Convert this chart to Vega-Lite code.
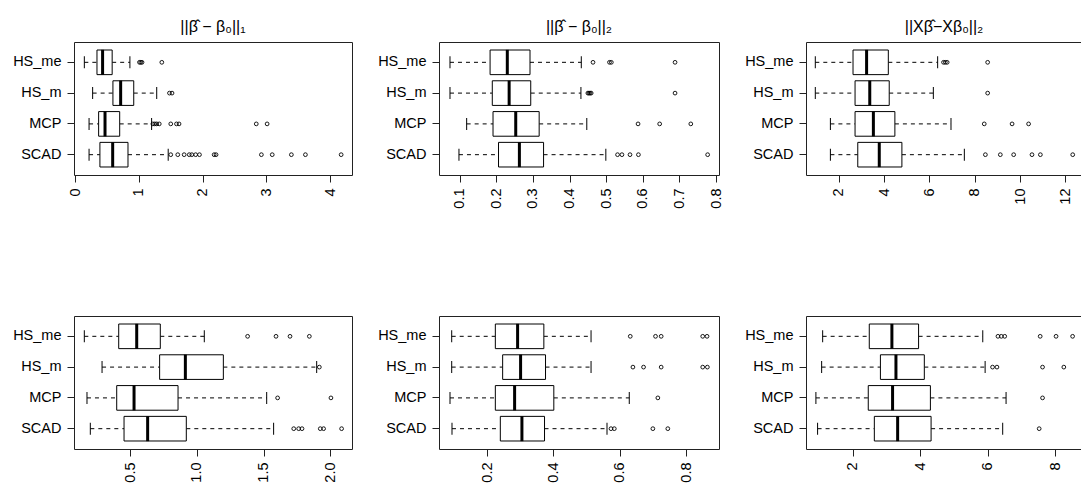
{
  "$schema": "https://vega.github.io/schema/vega-lite/v6.json",
  "background": "white",
  "padding": {"left": 7, "top": 18, "right": 0, "bottom": 0},
  "datasets": {
    "stats": [
      {"panel": 1, "method": "HS_me", "lo": 0.146, "q1": 0.344, "med": 0.432, "q3": 0.582, "hi": 0.86},
      {"panel": 1, "method": "HS_m", "lo": 0.276, "q1": 0.594, "med": 0.715, "q3": 0.92, "hi": 1.28},
      {"panel": 1, "method": "MCP", "lo": 0.22, "q1": 0.37, "med": 0.47, "q3": 0.70, "hi": 1.2},
      {"panel": 1, "method": "SCAD", "lo": 0.22, "q1": 0.39, "med": 0.59, "q3": 0.83, "hi": 1.46},
      {"panel": 2, "method": "HS_me", "lo": 0.0735, "q1": 0.183, "med": 0.230, "q3": 0.292, "hi": 0.432},
      {"panel": 2, "method": "HS_m", "lo": 0.0735, "q1": 0.189, "med": 0.235, "q3": 0.294, "hi": 0.431},
      {"panel": 2, "method": "MCP", "lo": 0.119, "q1": 0.191, "med": 0.253, "q3": 0.317, "hi": 0.447},
      {"panel": 2, "method": "SCAD", "lo": 0.098, "q1": 0.206, "med": 0.263, "q3": 0.329, "hi": 0.499},
      {"panel": 3, "method": "HS_me", "lo": 0.953, "q1": 2.62, "med": 3.22, "q3": 4.18, "hi": 6.36},
      {"panel": 3, "method": "HS_m", "lo": 0.953, "q1": 2.71, "med": 3.36, "q3": 4.22, "hi": 6.17},
      {"panel": 3, "method": "MCP", "lo": 1.62, "q1": 2.71, "med": 3.52, "q3": 4.47, "hi": 6.95},
      {"panel": 3, "method": "SCAD", "lo": 1.62, "q1": 2.83, "med": 3.78, "q3": 4.78, "hi": 7.54},
      {"panel": 4, "method": "HS_me", "lo": 0.155, "q1": 0.413, "med": 0.548, "q3": 0.725, "hi": 1.055},
      {"panel": 4, "method": "HS_m", "lo": 0.288, "q1": 0.72, "med": 0.913, "q3": 1.198, "hi": 1.898},
      {"panel": 4, "method": "MCP", "lo": 0.175, "q1": 0.398, "med": 0.528, "q3": 0.858, "hi": 1.523},
      {"panel": 4, "method": "SCAD", "lo": 0.2, "q1": 0.453, "med": 0.63, "q3": 0.92, "hi": 1.575},
      {"panel": 5, "method": "HS_me", "lo": 0.0937, "q1": 0.225, "med": 0.292, "q3": 0.371, "hi": 0.513},
      {"panel": 5, "method": "HS_m", "lo": 0.0937, "q1": 0.247, "med": 0.301, "q3": 0.376, "hi": 0.513},
      {"panel": 5, "method": "MCP", "lo": 0.0886, "q1": 0.225, "med": 0.283, "q3": 0.401, "hi": 0.628},
      {"panel": 5, "method": "SCAD", "lo": 0.0946, "q1": 0.24, "med": 0.305, "q3": 0.373, "hi": 0.561},
      {"panel": 6, "method": "HS_me", "lo": 1.11, "q1": 2.49, "med": 3.16, "q3": 3.95, "hi": 5.85},
      {"panel": 6, "method": "HS_m", "lo": 1.08, "q1": 2.82, "med": 3.28, "q3": 4.12, "hi": 5.92},
      {"panel": 6, "method": "MCP", "lo": 0.91, "q1": 2.46, "med": 3.18, "q3": 4.30, "hi": 6.54},
      {"panel": 6, "method": "SCAD", "lo": 0.96, "q1": 2.64, "med": 3.33, "q3": 4.32, "hi": 6.44}
    ],
    "out": [
      {"panel": 1, "method": "HS_me", "v": 1.01}, {"panel": 1, "method": "HS_me", "v": 1.03}, {"panel": 1, "method": "HS_me", "v": 1.05}, {"panel": 1, "method": "HS_me", "v": 1.36},
      {"panel": 1, "method": "HS_m", "v": 1.48}, {"panel": 1, "method": "HS_m", "v": 1.52},
      {"panel": 1, "method": "MCP", "v": 1.22}, {"panel": 1, "method": "MCP", "v": 1.25}, {"panel": 1, "method": "MCP", "v": 1.28}, {"panel": 1, "method": "MCP", "v": 1.32}, {"panel": 1, "method": "MCP", "v": 1.50}, {"panel": 1, "method": "MCP", "v": 1.59}, {"panel": 1, "method": "MCP", "v": 1.63}, {"panel": 1, "method": "MCP", "v": 2.84}, {"panel": 1, "method": "MCP", "v": 3.01},
      {"panel": 1, "method": "SCAD", "v": 1.50}, {"panel": 1, "method": "SCAD", "v": 1.61}, {"panel": 1, "method": "SCAD", "v": 1.71}, {"panel": 1, "method": "SCAD", "v": 1.79}, {"panel": 1, "method": "SCAD", "v": 1.83}, {"panel": 1, "method": "SCAD", "v": 1.89}, {"panel": 1, "method": "SCAD", "v": 1.95}, {"panel": 1, "method": "SCAD", "v": 2.18}, {"panel": 1, "method": "SCAD", "v": 2.21}, {"panel": 1, "method": "SCAD", "v": 2.92}, {"panel": 1, "method": "SCAD", "v": 3.09}, {"panel": 1, "method": "SCAD", "v": 3.39}, {"panel": 1, "method": "SCAD", "v": 3.61}, {"panel": 1, "method": "SCAD", "v": 4.17},
      {"panel": 2, "method": "HS_me", "v": 0.464}, {"panel": 2, "method": "HS_me", "v": 0.509}, {"panel": 2, "method": "HS_me", "v": 0.514}, {"panel": 2, "method": "HS_me", "v": 0.688},
      {"panel": 2, "method": "HS_m", "v": 0.450}, {"panel": 2, "method": "HS_m", "v": 0.453}, {"panel": 2, "method": "HS_m", "v": 0.456}, {"panel": 2, "method": "HS_m", "v": 0.459}, {"panel": 2, "method": "HS_m", "v": 0.688},
      {"panel": 2, "method": "MCP", "v": 0.587}, {"panel": 2, "method": "MCP", "v": 0.646}, {"panel": 2, "method": "MCP", "v": 0.731},
      {"panel": 2, "method": "SCAD", "v": 0.531}, {"panel": 2, "method": "SCAD", "v": 0.543}, {"panel": 2, "method": "SCAD", "v": 0.565}, {"panel": 2, "method": "SCAD", "v": 0.588}, {"panel": 2, "method": "SCAD", "v": 0.777},
      {"panel": 3, "method": "HS_me", "v": 6.62}, {"panel": 3, "method": "HS_me", "v": 6.70}, {"panel": 3, "method": "HS_me", "v": 6.78}, {"panel": 3, "method": "HS_me", "v": 8.57},
      {"panel": 3, "method": "HS_m", "v": 8.57},
      {"panel": 3, "method": "MCP", "v": 8.42}, {"panel": 3, "method": "MCP", "v": 9.65}, {"panel": 3, "method": "MCP", "v": 10.38},
      {"panel": 3, "method": "SCAD", "v": 8.47}, {"panel": 3, "method": "SCAD", "v": 9.13}, {"panel": 3, "method": "SCAD", "v": 9.72}, {"panel": 3, "method": "SCAD", "v": 10.53}, {"panel": 3, "method": "SCAD", "v": 10.90}, {"panel": 3, "method": "SCAD", "v": 12.33},
      {"panel": 4, "method": "HS_me", "v": 1.38}, {"panel": 4, "method": "HS_me", "v": 1.593}, {"panel": 4, "method": "HS_me", "v": 1.698}, {"panel": 4, "method": "HS_me", "v": 1.843},
      {"panel": 4, "method": "HS_m", "v": 1.918},
      {"panel": 4, "method": "MCP", "v": 1.605}, {"panel": 4, "method": "MCP", "v": 2.005},
      {"panel": 4, "method": "SCAD", "v": 1.726}, {"panel": 4, "method": "SCAD", "v": 1.763}, {"panel": 4, "method": "SCAD", "v": 1.788}, {"panel": 4, "method": "SCAD", "v": 1.925}, {"panel": 4, "method": "SCAD", "v": 1.95}, {"panel": 4, "method": "SCAD", "v": 2.085},
      {"panel": 5, "method": "HS_me", "v": 0.631}, {"panel": 5, "method": "HS_me", "v": 0.707}, {"panel": 5, "method": "HS_me", "v": 0.724}, {"panel": 5, "method": "HS_me", "v": 0.849}, {"panel": 5, "method": "HS_me", "v": 0.862},
      {"panel": 5, "method": "HS_m", "v": 0.639}, {"panel": 5, "method": "HS_m", "v": 0.671}, {"panel": 5, "method": "HS_m", "v": 0.724}, {"panel": 5, "method": "HS_m", "v": 0.849}, {"panel": 5, "method": "HS_m", "v": 0.863},
      {"panel": 5, "method": "MCP", "v": 0.714},
      {"panel": 5, "method": "SCAD", "v": 0.573}, {"panel": 5, "method": "SCAD", "v": 0.583}, {"panel": 5, "method": "SCAD", "v": 0.699}, {"panel": 5, "method": "SCAD", "v": 0.744},
      {"panel": 6, "method": "HS_me", "v": 6.30}, {"panel": 6, "method": "HS_me", "v": 6.40}, {"panel": 6, "method": "HS_me", "v": 6.50}, {"panel": 6, "method": "HS_me", "v": 7.55}, {"panel": 6, "method": "HS_me", "v": 8.02}, {"panel": 6, "method": "HS_me", "v": 8.51},
      {"panel": 6, "method": "HS_m", "v": 6.14}, {"panel": 6, "method": "HS_m", "v": 6.27}, {"panel": 6, "method": "HS_m", "v": 7.62}, {"panel": 6, "method": "HS_m", "v": 8.25},
      {"panel": 6, "method": "MCP", "v": 7.62},
      {"panel": 6, "method": "SCAD", "v": 7.52}
    ]
  },
  "columns": 3,
  "bounds": "flush",
  "spacing": {"row": 141, "column": 87},
  "concat": [
    {
      "width": 278, "height": 133,
      "title": {"text": "||β̂ − β₀||₁"},
      "data": {"name": "stats"},
      "transform": [{"filter": "datum.panel == 1"}],
      "layer": [
        {"mark": {"type": "rule", "strokeDash": [4, 4], "color": "#000", "strokeWidth": 1},
         "encoding": {"y": {"field": "method", "type": "nominal", "scale": {"type": "band", "domain": ["HS_me", "HS_m", "MCP", "SCAD"], "paddingInner": 0, "paddingOuter": 0.16}, "title": null},
                      "x": {"field": "lo", "type": "quantitative", "scale": {"domain": [-0.016, 4.34], "nice": false, "zero": false}, "axis": {"values": [0, 1, 2, 3, 4], "format": "d"}, "title": null},
                      "x2": {"field": "q1"}}},
        {"mark": {"type": "rule", "strokeDash": [4, 4], "color": "#000", "strokeWidth": 1},
         "encoding": {"y": {"field": "method", "type": "nominal"}, "x": {"field": "q3", "type": "quantitative"}, "x2": {"field": "hi"}}},
        {"mark": {"type": "bar", "fill": "white", "stroke": "#000", "strokeWidth": 1, "height": {"band": 0.8}},
         "encoding": {"y": {"field": "method", "type": "nominal"}, "x": {"field": "q1", "type": "quantitative"}, "x2": {"field": "q3"}}},
        {"mark": {"type": "tick", "thickness": 3, "size": 25, "color": "#000", "opacity": 1},
         "encoding": {"y": {"field": "method", "type": "nominal"}, "x": {"field": "med", "type": "quantitative"}}},
        {"mark": {"type": "tick", "thickness": 1, "size": 12, "color": "#000", "opacity": 1},
         "encoding": {"y": {"field": "method", "type": "nominal"}, "x": {"field": "lo", "type": "quantitative"}}},
        {"mark": {"type": "tick", "thickness": 1, "size": 12, "color": "#000", "opacity": 1},
         "encoding": {"y": {"field": "method", "type": "nominal"}, "x": {"field": "hi", "type": "quantitative"}}},
        {"data": {"name": "out"}, "transform": [{"filter": "datum.panel == 1"}],
         "mark": {"type": "point", "shape": "circle", "filled": false, "size": 14, "stroke": "#000", "strokeWidth": 0.9, "opacity": 1},
         "encoding": {"y": {"field": "method", "type": "nominal"}, "x": {"field": "v", "type": "quantitative"}}}
      ]
    },
    {
      "width": 280, "height": 133,
      "title": {"text": "||β̂ − β₀||₂"},
      "data": {"name": "stats"},
      "transform": [{"filter": "datum.panel == 2"}],
      "layer": [
        {"mark": {"type": "rule", "strokeDash": [4, 4], "color": "#000", "strokeWidth": 1},
         "encoding": {"y": {"field": "method", "type": "nominal", "scale": {"type": "band", "domain": ["HS_me", "HS_m", "MCP", "SCAD"], "paddingInner": 0, "paddingOuter": 0.16}, "title": null},
                      "x": {"field": "lo", "type": "quantitative", "scale": {"domain": [0.0435, 0.808], "nice": false, "zero": false}, "axis": {"values": [0.1, 0.2, 0.3, 0.4, 0.5, 0.6, 0.7, 0.8], "format": ".1f", "tickCount": 20}, "title": null},
                      "x2": {"field": "q1"}}},
        {"mark": {"type": "rule", "strokeDash": [4, 4], "color": "#000", "strokeWidth": 1},
         "encoding": {"y": {"field": "method", "type": "nominal"}, "x": {"field": "q3", "type": "quantitative"}, "x2": {"field": "hi"}}},
        {"mark": {"type": "bar", "fill": "white", "stroke": "#000", "strokeWidth": 1, "height": {"band": 0.8}},
         "encoding": {"y": {"field": "method", "type": "nominal"}, "x": {"field": "q1", "type": "quantitative"}, "x2": {"field": "q3"}}},
        {"mark": {"type": "tick", "thickness": 3, "size": 25, "color": "#000", "opacity": 1},
         "encoding": {"y": {"field": "method", "type": "nominal"}, "x": {"field": "med", "type": "quantitative"}}},
        {"mark": {"type": "tick", "thickness": 1, "size": 12, "color": "#000", "opacity": 1},
         "encoding": {"y": {"field": "method", "type": "nominal"}, "x": {"field": "lo", "type": "quantitative"}}},
        {"mark": {"type": "tick", "thickness": 1, "size": 12, "color": "#000", "opacity": 1},
         "encoding": {"y": {"field": "method", "type": "nominal"}, "x": {"field": "hi", "type": "quantitative"}}},
        {"data": {"name": "out"}, "transform": [{"filter": "datum.panel == 2"}],
         "mark": {"type": "point", "shape": "circle", "filled": false, "size": 14, "stroke": "#000", "strokeWidth": 0.9, "opacity": 1},
         "encoding": {"y": {"field": "method", "type": "nominal"}, "x": {"field": "v", "type": "quantitative"}}}
      ]
    },
    {
      "width": 276, "height": 133,
      "title": {"text": "||Xβ̂−Xβ₀||₂"},
      "data": {"name": "stats"},
      "transform": [{"filter": "datum.panel == 3"}],
      "layer": [
        {"mark": {"type": "rule", "strokeDash": [4, 4], "color": "#000", "strokeWidth": 1},
         "encoding": {"y": {"field": "method", "type": "nominal", "scale": {"type": "band", "domain": ["HS_me", "HS_m", "MCP", "SCAD"], "paddingInner": 0, "paddingOuter": 0.16}, "title": null},
                      "x": {"field": "lo", "type": "quantitative", "scale": {"domain": [0.542, 12.74], "nice": false, "zero": false}, "axis": {"values": [2, 4, 6, 8, 10, 12], "format": "d", "tickCount": 20}, "title": null},
                      "x2": {"field": "q1"}}},
        {"mark": {"type": "rule", "strokeDash": [4, 4], "color": "#000", "strokeWidth": 1},
         "encoding": {"y": {"field": "method", "type": "nominal"}, "x": {"field": "q3", "type": "quantitative"}, "x2": {"field": "hi"}}},
        {"mark": {"type": "bar", "fill": "white", "stroke": "#000", "strokeWidth": 1, "height": {"band": 0.8}},
         "encoding": {"y": {"field": "method", "type": "nominal"}, "x": {"field": "q1", "type": "quantitative"}, "x2": {"field": "q3"}}},
        {"mark": {"type": "tick", "thickness": 3, "size": 25, "color": "#000", "opacity": 1},
         "encoding": {"y": {"field": "method", "type": "nominal"}, "x": {"field": "med", "type": "quantitative"}}},
        {"mark": {"type": "tick", "thickness": 1, "size": 12, "color": "#000", "opacity": 1},
         "encoding": {"y": {"field": "method", "type": "nominal"}, "x": {"field": "lo", "type": "quantitative"}}},
        {"mark": {"type": "tick", "thickness": 1, "size": 12, "color": "#000", "opacity": 1},
         "encoding": {"y": {"field": "method", "type": "nominal"}, "x": {"field": "hi", "type": "quantitative"}}},
        {"data": {"name": "out"}, "transform": [{"filter": "datum.panel == 3"}],
         "mark": {"type": "point", "shape": "circle", "filled": false, "size": 14, "stroke": "#000", "strokeWidth": 0.9, "opacity": 1},
         "encoding": {"y": {"field": "method", "type": "nominal"}, "x": {"field": "v", "type": "quantitative"}}}
      ]
    },
    {
      "width": 278, "height": 133,
      "data": {"name": "stats"},
      "transform": [{"filter": "datum.panel == 4"}],
      "layer": [
        {"mark": {"type": "rule", "strokeDash": [4, 4], "color": "#000", "strokeWidth": 1},
         "encoding": {"y": {"field": "method", "type": "nominal", "scale": {"type": "band", "domain": ["HS_me", "HS_m", "MCP", "SCAD"], "paddingInner": 0, "paddingOuter": 0.16}, "title": null},
                      "x": {"field": "lo", "type": "quantitative", "scale": {"domain": [0.0776, 2.163], "nice": false, "zero": false}, "axis": {"values": [0.5, 1.0, 1.5, 2.0], "format": ".1f", "tickCount": 20}, "title": null},
                      "x2": {"field": "q1"}}},
        {"mark": {"type": "rule", "strokeDash": [4, 4], "color": "#000", "strokeWidth": 1},
         "encoding": {"y": {"field": "method", "type": "nominal"}, "x": {"field": "q3", "type": "quantitative"}, "x2": {"field": "hi"}}},
        {"mark": {"type": "bar", "fill": "white", "stroke": "#000", "strokeWidth": 1, "height": {"band": 0.8}},
         "encoding": {"y": {"field": "method", "type": "nominal"}, "x": {"field": "q1", "type": "quantitative"}, "x2": {"field": "q3"}}},
        {"mark": {"type": "tick", "thickness": 3, "size": 25, "color": "#000", "opacity": 1},
         "encoding": {"y": {"field": "method", "type": "nominal"}, "x": {"field": "med", "type": "quantitative"}}},
        {"mark": {"type": "tick", "thickness": 1, "size": 12, "color": "#000", "opacity": 1},
         "encoding": {"y": {"field": "method", "type": "nominal"}, "x": {"field": "lo", "type": "quantitative"}}},
        {"mark": {"type": "tick", "thickness": 1, "size": 12, "color": "#000", "opacity": 1},
         "encoding": {"y": {"field": "method", "type": "nominal"}, "x": {"field": "hi", "type": "quantitative"}}},
        {"data": {"name": "out"}, "transform": [{"filter": "datum.panel == 4"}],
         "mark": {"type": "point", "shape": "circle", "filled": false, "size": 14, "stroke": "#000", "strokeWidth": 0.9, "opacity": 1},
         "encoding": {"y": {"field": "method", "type": "nominal"}, "x": {"field": "v", "type": "quantitative"}}}
      ]
    },
    {
      "width": 280, "height": 133,
      "data": {"name": "stats"},
      "transform": [{"filter": "datum.panel == 5"}],
      "layer": [
        {"mark": {"type": "rule", "strokeDash": [4, 4], "color": "#000", "strokeWidth": 1},
         "encoding": {"y": {"field": "method", "type": "nominal", "scale": {"type": "band", "domain": ["HS_me", "HS_m", "MCP", "SCAD"], "paddingInner": 0, "paddingOuter": 0.16}, "title": null},
                      "x": {"field": "lo", "type": "quantitative", "scale": {"domain": [0.0555, 0.898], "nice": false, "zero": false}, "axis": {"values": [0.2, 0.4, 0.6, 0.8], "format": ".1f", "tickCount": 20}, "title": null},
                      "x2": {"field": "q1"}}},
        {"mark": {"type": "rule", "strokeDash": [4, 4], "color": "#000", "strokeWidth": 1},
         "encoding": {"y": {"field": "method", "type": "nominal"}, "x": {"field": "q3", "type": "quantitative"}, "x2": {"field": "hi"}}},
        {"mark": {"type": "bar", "fill": "white", "stroke": "#000", "strokeWidth": 1, "height": {"band": 0.8}},
         "encoding": {"y": {"field": "method", "type": "nominal"}, "x": {"field": "q1", "type": "quantitative"}, "x2": {"field": "q3"}}},
        {"mark": {"type": "tick", "thickness": 3, "size": 25, "color": "#000", "opacity": 1},
         "encoding": {"y": {"field": "method", "type": "nominal"}, "x": {"field": "med", "type": "quantitative"}}},
        {"mark": {"type": "tick", "thickness": 1, "size": 12, "color": "#000", "opacity": 1},
         "encoding": {"y": {"field": "method", "type": "nominal"}, "x": {"field": "lo", "type": "quantitative"}}},
        {"mark": {"type": "tick", "thickness": 1, "size": 12, "color": "#000", "opacity": 1},
         "encoding": {"y": {"field": "method", "type": "nominal"}, "x": {"field": "hi", "type": "quantitative"}}},
        {"data": {"name": "out"}, "transform": [{"filter": "datum.panel == 5"}],
         "mark": {"type": "point", "shape": "circle", "filled": false, "size": 14, "stroke": "#000", "strokeWidth": 0.9, "opacity": 1},
         "encoding": {"y": {"field": "method", "type": "nominal"}, "x": {"field": "v", "type": "quantitative"}}}
      ]
    },
    {
      "width": 276, "height": 133,
      "data": {"name": "stats"},
      "transform": [{"filter": "datum.panel == 6"}],
      "layer": [
        {"mark": {"type": "rule", "strokeDash": [4, 4], "color": "#000", "strokeWidth": 1},
         "encoding": {"y": {"field": "method", "type": "nominal", "scale": {"type": "band", "domain": ["HS_me", "HS_m", "MCP", "SCAD"], "paddingInner": 0, "paddingOuter": 0.16}, "title": null},
                      "x": {"field": "lo", "type": "quantitative", "scale": {"domain": [0.617, 8.788], "nice": false, "zero": false}, "axis": {"values": [2, 4, 6, 8], "format": "d", "tickCount": 20}, "title": null},
                      "x2": {"field": "q1"}}},
        {"mark": {"type": "rule", "strokeDash": [4, 4], "color": "#000", "strokeWidth": 1},
         "encoding": {"y": {"field": "method", "type": "nominal"}, "x": {"field": "q3", "type": "quantitative"}, "x2": {"field": "hi"}}},
        {"mark": {"type": "bar", "fill": "white", "stroke": "#000", "strokeWidth": 1, "height": {"band": 0.8}},
         "encoding": {"y": {"field": "method", "type": "nominal"}, "x": {"field": "q1", "type": "quantitative"}, "x2": {"field": "q3"}}},
        {"mark": {"type": "tick", "thickness": 3, "size": 25, "color": "#000", "opacity": 1},
         "encoding": {"y": {"field": "method", "type": "nominal"}, "x": {"field": "med", "type": "quantitative"}}},
        {"mark": {"type": "tick", "thickness": 1, "size": 12, "color": "#000", "opacity": 1},
         "encoding": {"y": {"field": "method", "type": "nominal"}, "x": {"field": "lo", "type": "quantitative"}}},
        {"mark": {"type": "tick", "thickness": 1, "size": 12, "color": "#000", "opacity": 1},
         "encoding": {"y": {"field": "method", "type": "nominal"}, "x": {"field": "hi", "type": "quantitative"}}},
        {"data": {"name": "out"}, "transform": [{"filter": "datum.panel == 6"}],
         "mark": {"type": "point", "shape": "circle", "filled": false, "size": 14, "stroke": "#000", "strokeWidth": 0.9, "opacity": 1},
         "encoding": {"y": {"field": "method", "type": "nominal"}, "x": {"field": "v", "type": "quantitative"}}}
      ]
    }
  ],
  "config": {
    "font": "Liberation Sans",
    "view": {"stroke": "#222", "strokeWidth": 1, "fill": "white"},
    "axis": {"labelFont": "Liberation Sans", "labelFontSize": 14.5, "labelColor": "#000", "tickColor": "#222", "tickSize": 7, "labelPadding": 6, "domain": false, "grid": false, "labelOverlap": false, "labelFlush": false, "tickCount": 20},
    "axisX": {"labelAngle": -90},
    "axisY": {"minExtent": 66, "maxExtent": 66},
    "title": {"font": "Liberation Sans", "fontSize": 16, "fontWeight": "normal", "color": "#000", "baseline": "alphabetic", "offset": 7, "anchor": "middle"}
  }
}
